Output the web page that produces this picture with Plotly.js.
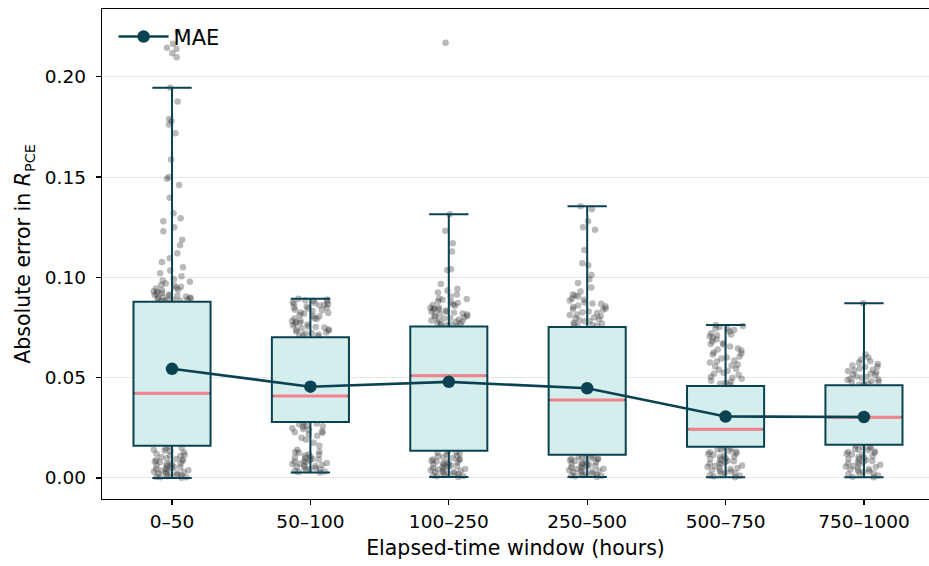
<!DOCTYPE html>
<html>
<head>
<meta charset="utf-8">
<script src="https://cdn.plot.ly/plotly-3.0.1.min.js"></script>
<style>html,body{margin:0;padding:0;background:#fff;}#chart{width:929px;height:566px;}</style>
</head>
<body>
<div id="chart"></div>
<script>
// ---- data ----
const categories = ["0–50", "50–100", "100–250", "250–500", "500–750", "750–1000"];
const q1 = [0.0161, 0.0279, 0.0136, 0.0115, 0.0155, 0.0165];
const median = [0.0422, 0.0409, 0.0510, 0.0389, 0.0243, 0.0303];
const q3 = [0.0879, 0.0702, 0.0755, 0.0753, 0.0459, 0.0462];
const whiskerLow = [0.0000, 0.0027, 0.0005, 0.0005, 0.0003, 0.0003];
const whiskerHigh = [0.1945, 0.0894, 0.1315, 0.1355, 0.0763, 0.0871];
const mae = [0.0544, 0.0455, 0.0479, 0.0447, 0.0306, 0.0304];

const points0 = [0.2225,0.2165,0.2145,0.2138,0.2118,0.2098,
  0.1945,0.1877,0.1790,0.1778,0.1762,0.1718,0.1588,0.1500,0.1492,0.1460,0.1397,0.1320,0.1295,0.1280,0.1250,0.1230,0.1187,0.1160,0.1120,0.1095,0.1077,0.1050,0.1034,0.1020,0.1005,0.0990,0.0985,0.0970,0.0960,0.0953,0.0945,0.0935,0.0928,0.0922,0.0915,0.0910,0.0905,0.0900,0.0897,0.0893,0.0890,0.0887,0.0884,0.0881,
  0.0978,0.0962,0.0948,0.0931,0.0918,0.0908,0.0902,0.0895,0.0889,0.0883,0.0938,0.0912,
  0.085,0.080,0.075,0.070,0.065,0.060,0.055,0.050,0.046,0.043,0.042,0.040,0.036,0.032,0.028,0.024,0.020,0.018,
  0.0158,0.0150,0.0145,0.0140,0.0133,0.0128,0.0120,0.0115,0.0110,0.0104,0.0098,0.0092,0.0088,0.0082,0.0078,0.0072,0.0068,0.0062,0.0058,0.0053,0.0048,0.0044,0.0040,0.0036,0.0032,0.0028,0.0024,0.0020,0.0016,0.0012,0.0008,0.0004,0.0001,
  0.0135,0.0112,0.0095,0.0085,0.0075,0.0065,0.0055,0.0046,0.0038,0.0030,0.0022,0.0014,0.0006,0.0003];
const points1 = [0.0894,0.0890,0.0886,0.0880,0.0875,0.0870,0.0866,0.0860,0.0855,0.0850,0.0845,0.0838,0.0832,0.0825,0.0818,0.0812,0.0805,0.0798,0.0792,0.0785,0.0778,0.0772,0.0765,0.0760,0.0755,0.0750,0.0745,0.0740,0.0735,0.0730,0.0725,0.0720,0.0715,0.0710,0.0706,
  0.0884,0.0872,0.0862,0.0848,0.0835,0.0822,0.0808,0.0795,0.0782,0.0768,0.0752,0.0738,0.0722,0.0712,
  0.068,0.064,0.060,0.056,0.052,0.048,0.045,0.042,0.041,0.040,0.038,0.035,0.032,0.029,
  0.0275,0.0268,0.0262,0.0255,0.0248,0.0240,0.0232,0.0225,0.0218,0.0210,0.0200,0.0190,0.0175,0.0160,0.0140,0.0132,0.0125,0.0118,0.0112,0.0106,0.0100,0.0095,0.0090,0.0085,0.0080,0.0075,0.0070,0.0065,0.0060,0.0055,0.0050,0.0045,0.0040,0.0035,0.0030,0.0027,
  0.0272,0.0258,0.0244,0.0228,0.0128,0.0115,0.0102,0.0092,0.0082,0.0072,0.0062,0.0052,0.0042,0.0032];
const points2 = [0.2170,
  0.1315,0.1232,0.1170,0.1129,0.1040,0.1037,0.0967,0.0943,0.0935,0.0925,0.0915,0.0905,0.0895,0.0888,0.0880,0.0872,0.0865,0.0858,0.0850,0.0845,0.0840,0.0835,0.0830,0.0825,0.0820,0.0815,0.0810,0.0805,0.0800,0.0795,0.0790,0.0785,0.0780,0.0775,0.0770,0.0765,0.0760,
  0.0892,0.0876,0.0862,0.0848,0.0838,0.0828,0.0818,0.0808,0.0798,0.0788,0.0778,0.0768,0.0762,0.0758,
  0.072,0.068,0.062,0.056,0.052,0.050,0.048,0.044,0.040,0.035,0.030,0.025,0.020,0.016,
  0.0132,0.0128,0.0122,0.0116,0.0110,0.0105,0.0100,0.0095,0.0090,0.0086,0.0082,0.0078,0.0074,0.0070,0.0066,0.0062,0.0058,0.0054,0.0050,0.0046,0.0042,0.0038,0.0034,0.0030,0.0026,0.0022,0.0018,0.0014,0.0010,0.0005,
  0.0125,0.0108,0.0092,0.0080,0.0068,0.0056,0.0044,0.0036,0.0028,0.0020,0.0012,0.0008];
const points3 = [0.1355,0.1340,0.1280,0.1250,0.1237,0.1137,0.1070,0.1060,0.1012,0.0990,0.0972,0.0950,0.0930,0.0915,0.0905,0.0895,0.0885,0.0875,0.0868,0.0860,0.0852,0.0845,0.0838,0.0830,0.0822,0.0815,0.0808,0.0800,0.0793,0.0786,0.0780,0.0773,0.0766,0.0760,0.0756,
  0.0910,0.0888,0.0870,0.0856,0.0842,0.0826,0.0812,0.0796,0.0782,0.0770,0.0762,
  0.072,0.066,0.060,0.054,0.048,0.044,0.040,0.039,0.036,0.032,0.027,0.022,0.017,0.013,
  0.0112,0.0108,0.0104,0.0100,0.0096,0.0092,0.0088,0.0084,0.0080,0.0076,0.0072,0.0068,0.0064,0.0060,0.0056,0.0052,0.0048,0.0044,0.0040,0.0036,0.0032,0.0028,0.0024,0.0020,0.0016,0.0012,0.0008,0.0005,
  0.0106,0.0094,0.0082,0.0070,0.0058,0.0046,0.0034,0.0022,0.0014,0.0010];
const points4 = [0.0763,0.0758,0.0752,0.0745,0.0738,0.0730,0.0722,0.0715,0.0706,0.0698,0.0690,0.0680,0.0672,0.0665,0.0655,0.0645,0.0635,0.0625,0.0615,0.0605,0.0595,0.0585,0.0575,0.0565,0.0555,0.0545,0.0535,0.0525,0.0515,0.0505,0.0495,0.0485,0.0475,0.0465,
  0.0742,0.0710,0.0668,0.0640,0.0620,0.0600,0.0580,0.0560,0.0540,0.0520,0.0500,0.0480,0.0470,
  0.044,0.040,0.036,0.032,0.028,0.025,0.024,0.022,0.020,0.017,
  0.0152,0.0146,0.0140,0.0134,0.0128,0.0122,0.0116,0.0110,0.0104,0.0098,0.0092,0.0086,0.0080,0.0074,0.0068,0.0062,0.0056,0.0050,0.0044,0.0038,0.0032,0.0026,0.0020,0.0014,0.0008,0.0003,
  0.0143,0.0131,0.0119,0.0107,0.0095,0.0083,0.0071,0.0059,0.0047,0.0035,0.0023,0.0011];
const points5 = [0.0871,0.0615,0.0600,0.0590,0.0582,0.0575,0.0568,0.0560,0.0553,0.0546,0.0540,0.0533,0.0526,0.0520,0.0513,0.0506,0.0500,0.0494,0.0488,0.0482,0.0476,0.0470,0.0465,
  0.0556,0.0536,0.0516,0.0503,0.0491,0.0479,0.0468,
  0.044,0.040,0.036,0.032,0.030,0.028,0.025,0.022,0.019,
  0.0162,0.0156,0.0150,0.0144,0.0138,0.0132,0.0126,0.0120,0.0114,0.0108,0.0102,0.0096,0.0090,0.0084,0.0078,0.0072,0.0066,0.0060,0.0054,0.0048,0.0042,0.0036,0.0030,0.0024,0.0018,0.0012,0.0006,0.0003,
  0.0153,0.0141,0.0129,0.0117,0.0105,0.0093,0.0081,0.0069,0.0057,0.0045,0.0033,0.0021];
const pointSets = [points0, points1, points2, points3, points4, points5];

// ---- styling ----
const DARK = "#0b4252";
const FILL = "#d3eeec";
const PINK = "#f3838b";
const BOXW = 0.557;
const FONT = "DejaVu Sans, sans-serif";
const idx = categories.map((_, i) => i);

const traces = [];
// jittered sample points (drawn first, under the boxes)
pointSets.forEach((vals, i) => {
  traces.push({
    type: "box", y: vals, x0: i, name: categories[i],
    boxpoints: "all", jitter: 0.48, pointpos: 0, width: BOXW,
    fillcolor: "rgba(0,0,0,0)", line: {width: 0, color: "rgba(0,0,0,0)"},
    marker: {color: "rgba(45,45,45,0.33)", size: 6.5, line: {width: 0}},
    showlegend: false, hoverinfo: "skip"
  });
});
// boxes from summary statistics
traces.push({
  type: "box", x: idx, q1: q1, median: median, q3: q3,
  lowerfence: whiskerLow, upperfence: whiskerHigh,
  width: BOXW, whiskerwidth: 0.51, boxpoints: false,
  fillcolor: FILL, line: {color: DARK, width: 2},
  showlegend: false, hoverinfo: "skip"
});
// median lines
const mx = [], my = [];
idx.forEach(i => { mx.push(i - BOXW / 2 + 0.01, i + BOXW / 2 - 0.01, null); my.push(median[i], median[i], null); });
traces.push({type: "scatter", mode: "lines", x: mx, y: my, line: {color: PINK, width: 3}, showlegend: false, hoverinfo: "skip"});
// MAE
traces.push({
  type: "scatter", mode: "lines+markers", x: idx, y: mae, name: "MAE",
  line: {color: DARK, width: 2.6}, marker: {color: DARK, size: 12.5}
});

const layout = {
  width: 929, height: 566,
  margin: {l: 102, r: 0, t: 9, b: 67},
  paper_bgcolor: "#fff", plot_bgcolor: "#fff",
  font: {family: FONT, size: 18.5, color: "#000"},
  boxmode: "overlay",
  showlegend: true,
  legend: {x: 0.014, y: 0.985, xanchor: "left", yanchor: "top", itemwidth: 50, bgcolor: "rgba(255,255,255,0)", font: {size: 21, family: FONT}},
  xaxis: {
    range: [-0.506, 5.47], tickvals: idx, ticktext: categories,
    showgrid: false, zeroline: false,
    showline: true, mirror: true, linecolor: "#000", linewidth: 1.3,
    ticks: "outside", ticklen: 5, tickwidth: 1.2, tickcolor: "#000",
    tickfont: {size: 18.5, family: FONT},
    title: {text: "Elapsed-time window (hours)", font: {size: 20.5, family: FONT}, standoff: 10}
  },
  yaxis: {
    range: [-0.0105, 0.2338], tickvals: [0, 0.05, 0.1, 0.15, 0.2], tickformat: ".2f",
    showgrid: true, gridcolor: "#e6e6e6", gridwidth: 1, zeroline: false,
    showline: true, linecolor: "#000", linewidth: 1.3,
    ticks: "outside", ticklen: 5, tickwidth: 1.2, tickcolor: "#000",
    ticklabelstandoff: 6,
    tickfont: {size: 18.5, family: FONT},
    title: {text: "Absolute error in <i>R</i><sub>PCE</sub>", font: {size: 20.5, family: FONT}, standoff: 8}
  }
};

Plotly.newPlot("chart", traces, layout, {displayModeBar: false, staticPlot: true});
</script>
</body>
</html>
